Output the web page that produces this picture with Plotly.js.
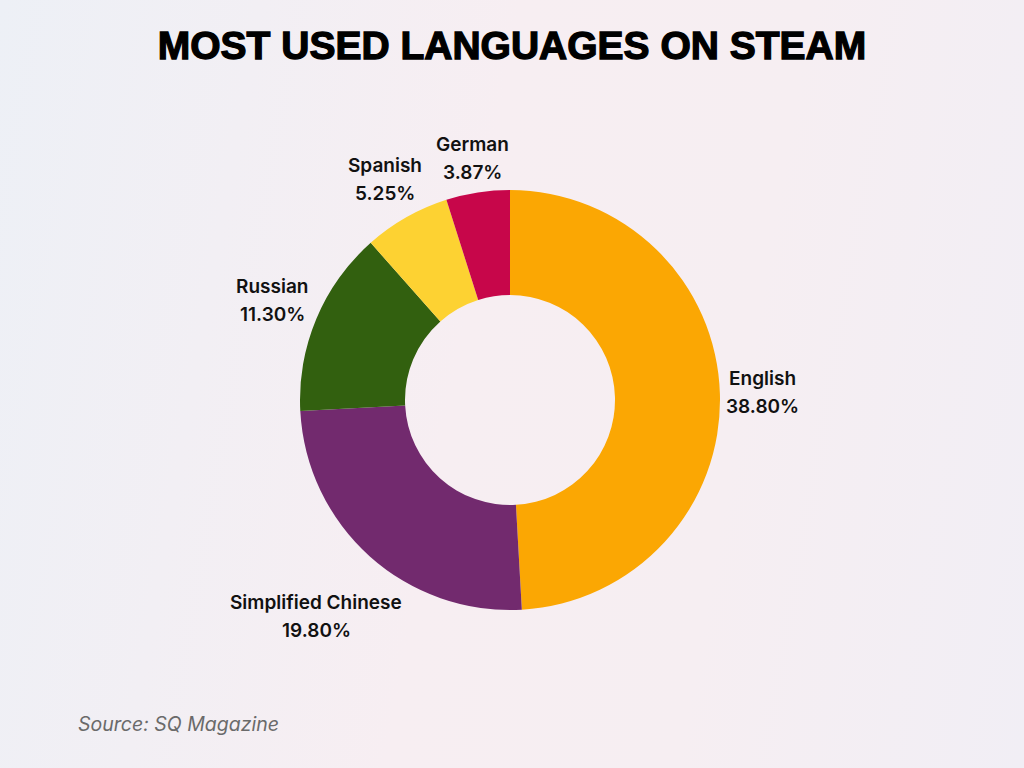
<!DOCTYPE html>
<html>
<head>
<meta charset="utf-8">
<script src="https://cdn.plot.ly/plotly-3.0.1.min.js"></script>
<style>
html,body{margin:0;padding:0;}
body{width:1024px;height:768px;background:linear-gradient(100deg,#edf0f6 0%,#f7eef2 45%,#f6eef2 70%,#f1eef5 100%);}
#chart{width:1024px;height:768px;}
#chart .gtitle{stroke:#000;stroke-width:1.3px;paint-order:stroke;}
</style>
</head>
<body>
<div id="chart"></div>
<script>
const languages = ["English", "Simplified Chinese", "Russian", "Spanish", "German"];
const shares = [38.80, 19.80, 11.30, 5.25, 3.87];
const sliceColors = ["#FBA703", "#722A6E", "#32600F", "#FDD232", "#C7064A"];

const W = 1024, H = 768;
const cx = 510, cy = 400, outerR = 210;
const labelFont = "Inter, Roboto, sans-serif";
const labelSize = 19;

const trace = {
  type: "pie",
  labels: languages,
  values: shares,
  hole: 0.5,
  sort: false,
  direction: "clockwise",
  rotation: 0,
  marker: {colors: sliceColors, line: {width: 0}},
  textinfo: "none",
  automargin: false,
  showlegend: false,
  hoverinfo: "none",
  domain: {x: [(cx - outerR)/W, (cx + outerR)/W], y: [1 - (cy + outerR)/H, 1 - (cy - outerR)/H]}
};

// place labels just outside each slice, along its mid-angle
const ctx = document.createElement("canvas").getContext("2d");
ctx.font = "600 " + labelSize + "px Inter";
const total = shares.reduce((a, b) => a + b, 0);
const annotations = [];
let cum = 0;
shares.forEach((v, i) => {
  const mid = (cum + v / 2) / total * 2 * Math.PI;
  cum += v;
  const dx = Math.sin(mid), dy = -Math.cos(mid);
  const valText = v.toFixed(2) + "%";
  const halfW = Math.max(ctx.measureText(languages[i]).width, ctx.measureText(valText).width) / 2;
  const halfH = 24;
  const r = outerR + 5 + halfW * Math.abs(dx) + halfH * Math.abs(dy);
  const px = cx + r * dx, py = cy + r * dy;
  const common = {xref: "paper", yref: "paper", xanchor: "center", yanchor: "middle", showarrow: false,
    font: {family: labelFont, size: labelSize, color: "#111111", weight: 600}};
  annotations.push(Object.assign({text: languages[i], x: px / W, y: 1 - (py - 14) / H}, common));
  annotations.push(Object.assign({text: valText, x: px / W, y: 1 - (py + 14) / H}, common));
});

annotations.push({
  text: "Source: SQ Magazine",
  xref: "paper", yref: "paper",
  x: 76/W, y: 1 - 724/H,
  xanchor: "left", yanchor: "middle",
  showarrow: false,
  font: {family: labelFont, size: 19.5, color: "#6a6a6a", style: "italic"}
});

const layout = {
  width: W,
  height: H,
  margin: {l: 0, r: 0, t: 0, b: 0},
  paper_bgcolor: "rgba(0,0,0,0)",
  plot_bgcolor: "rgba(0,0,0,0)",
  title: {
    text: "MOST USED LANGUAGES ON STEAM",
    font: {family: "Liberation Sans, Arial, sans-serif", size: 39, color: "#000000", weight: 700},
    x: 0.5, xanchor: "center",
    y: 1 - 45/H, yanchor: "middle"
  },
  annotations: annotations
};

Plotly.newPlot("chart", [trace], layout, {displayModeBar: false, staticPlot: true});
</script>
</body>
</html>
